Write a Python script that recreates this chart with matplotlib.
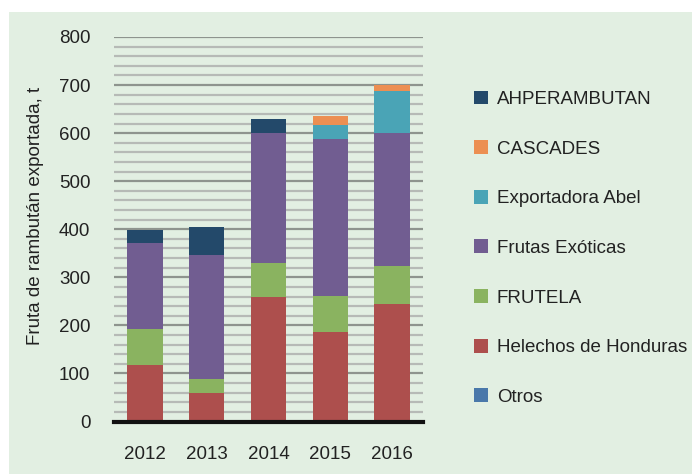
import numpy as np
import matplotlib
matplotlib.use("Agg")
import matplotlib.pyplot as plt
from matplotlib.patches import Rectangle

years = ["2012", "2013", "2014", "2015", "2016"]

# stacked from bottom to top
otros = [0, 0, 0, 0, 0]
helechos = [117, 59, 258, 186, 244]
frutela = [75, 29, 72, 75, 79]
frutas_exoticas = [179, 259, 270, 327, 277]
exportadora_abel = [0, 0, 0, 29, 88]
cascades = [0, 0, 0, 19, 12]
ahperambutan = [27, 58, 30, 0, 0]

series = [
    ("Otros", otros, "#4a78aa"),
    ("Helechos de Honduras", helechos, "#ad4f4d"),
    ("FRUTELA", frutela, "#8ab360"),
    ("Frutas Exóticas", frutas_exoticas, "#715d91"),
    ("Exportadora Abel", exportadora_abel, "#4aa4b6"),
    ("CASCADES", cascades, "#ec8f52"),
    ("AHPERAMBUTAN", ahperambutan, "#23496a"),
]

plt.rcParams['font.family'] = ['Liberation Sans', 'DejaVu Sans']
bg = "#e2efe2"
txt = "#222222"
fs = 13.5

fig = plt.figure(figsize=(6.92, 4.74), dpi=100)
fig.patches.append(Rectangle((9 / 692, 0), 1, 1 - 12 / 474,
                             transform=fig.transFigure, facecolor=bg,
                             edgecolor="none", zorder=-10))
ax = fig.add_axes([114 / 692, 1 - 421.5 / 474, 309 / 692, 384.5 / 474])
ax.patch.set_alpha(0)

x = np.arange(len(years))
bottom = np.zeros(len(years))
handles = []
for name, vals, col in series:
    b = ax.bar(x, vals, 0.57, bottom=bottom, color=col, zorder=3, label=name)
    handles.append(b)
    bottom += np.array(vals)

ax.set_xlim(-0.5, len(years) - 0.5)
ax.set_ylim(0, 800)

# gridlines: minor every 20, major every 100
for v in range(20, 801, 20):
    if v % 100 == 0:
        ax.axhline(v, color="#8e948e", lw=1.6, zorder=1)
    else:
        ax.axhline(v, color="#b6bab6", lw=1.6, zorder=1)
ax.axhline(0, color="#111111", lw=3, zorder=4, clip_on=False)

for s in ax.spines.values():
    s.set_visible(False)
ax.tick_params(length=0)
ax.set_yticks(range(0, 801, 100))
ax.set_yticklabels([str(v) for v in range(0, 801, 100)], fontsize=fs, color=txt)
ax.tick_params(axis="y", pad=17)
ax.set_xticks(x)
ax.set_xticklabels(years, fontsize=fs, color=txt)
ax.tick_params(axis="x", pad=17.5)

fig.text(36 / 692, 1 - 216 / 474, "Fruta de rambután exportada, t",
         rotation=90, ha="center", va="center", fontsize=fs, color=txt)

leg = fig.legend(handles[::-1], [s[0] for s in series][::-1],
                 loc="upper left", bbox_to_anchor=(466 / 692, 1 - 83 / 474),
                 frameon=False, fontsize=fs, labelspacing=1.72,
                 handlelength=0.75, handleheight=0.75, handletextpad=0.5,
                 borderaxespad=0)
for t in leg.get_texts():
    t.set_color(txt)

fig.savefig("out.png", dpi=100)
